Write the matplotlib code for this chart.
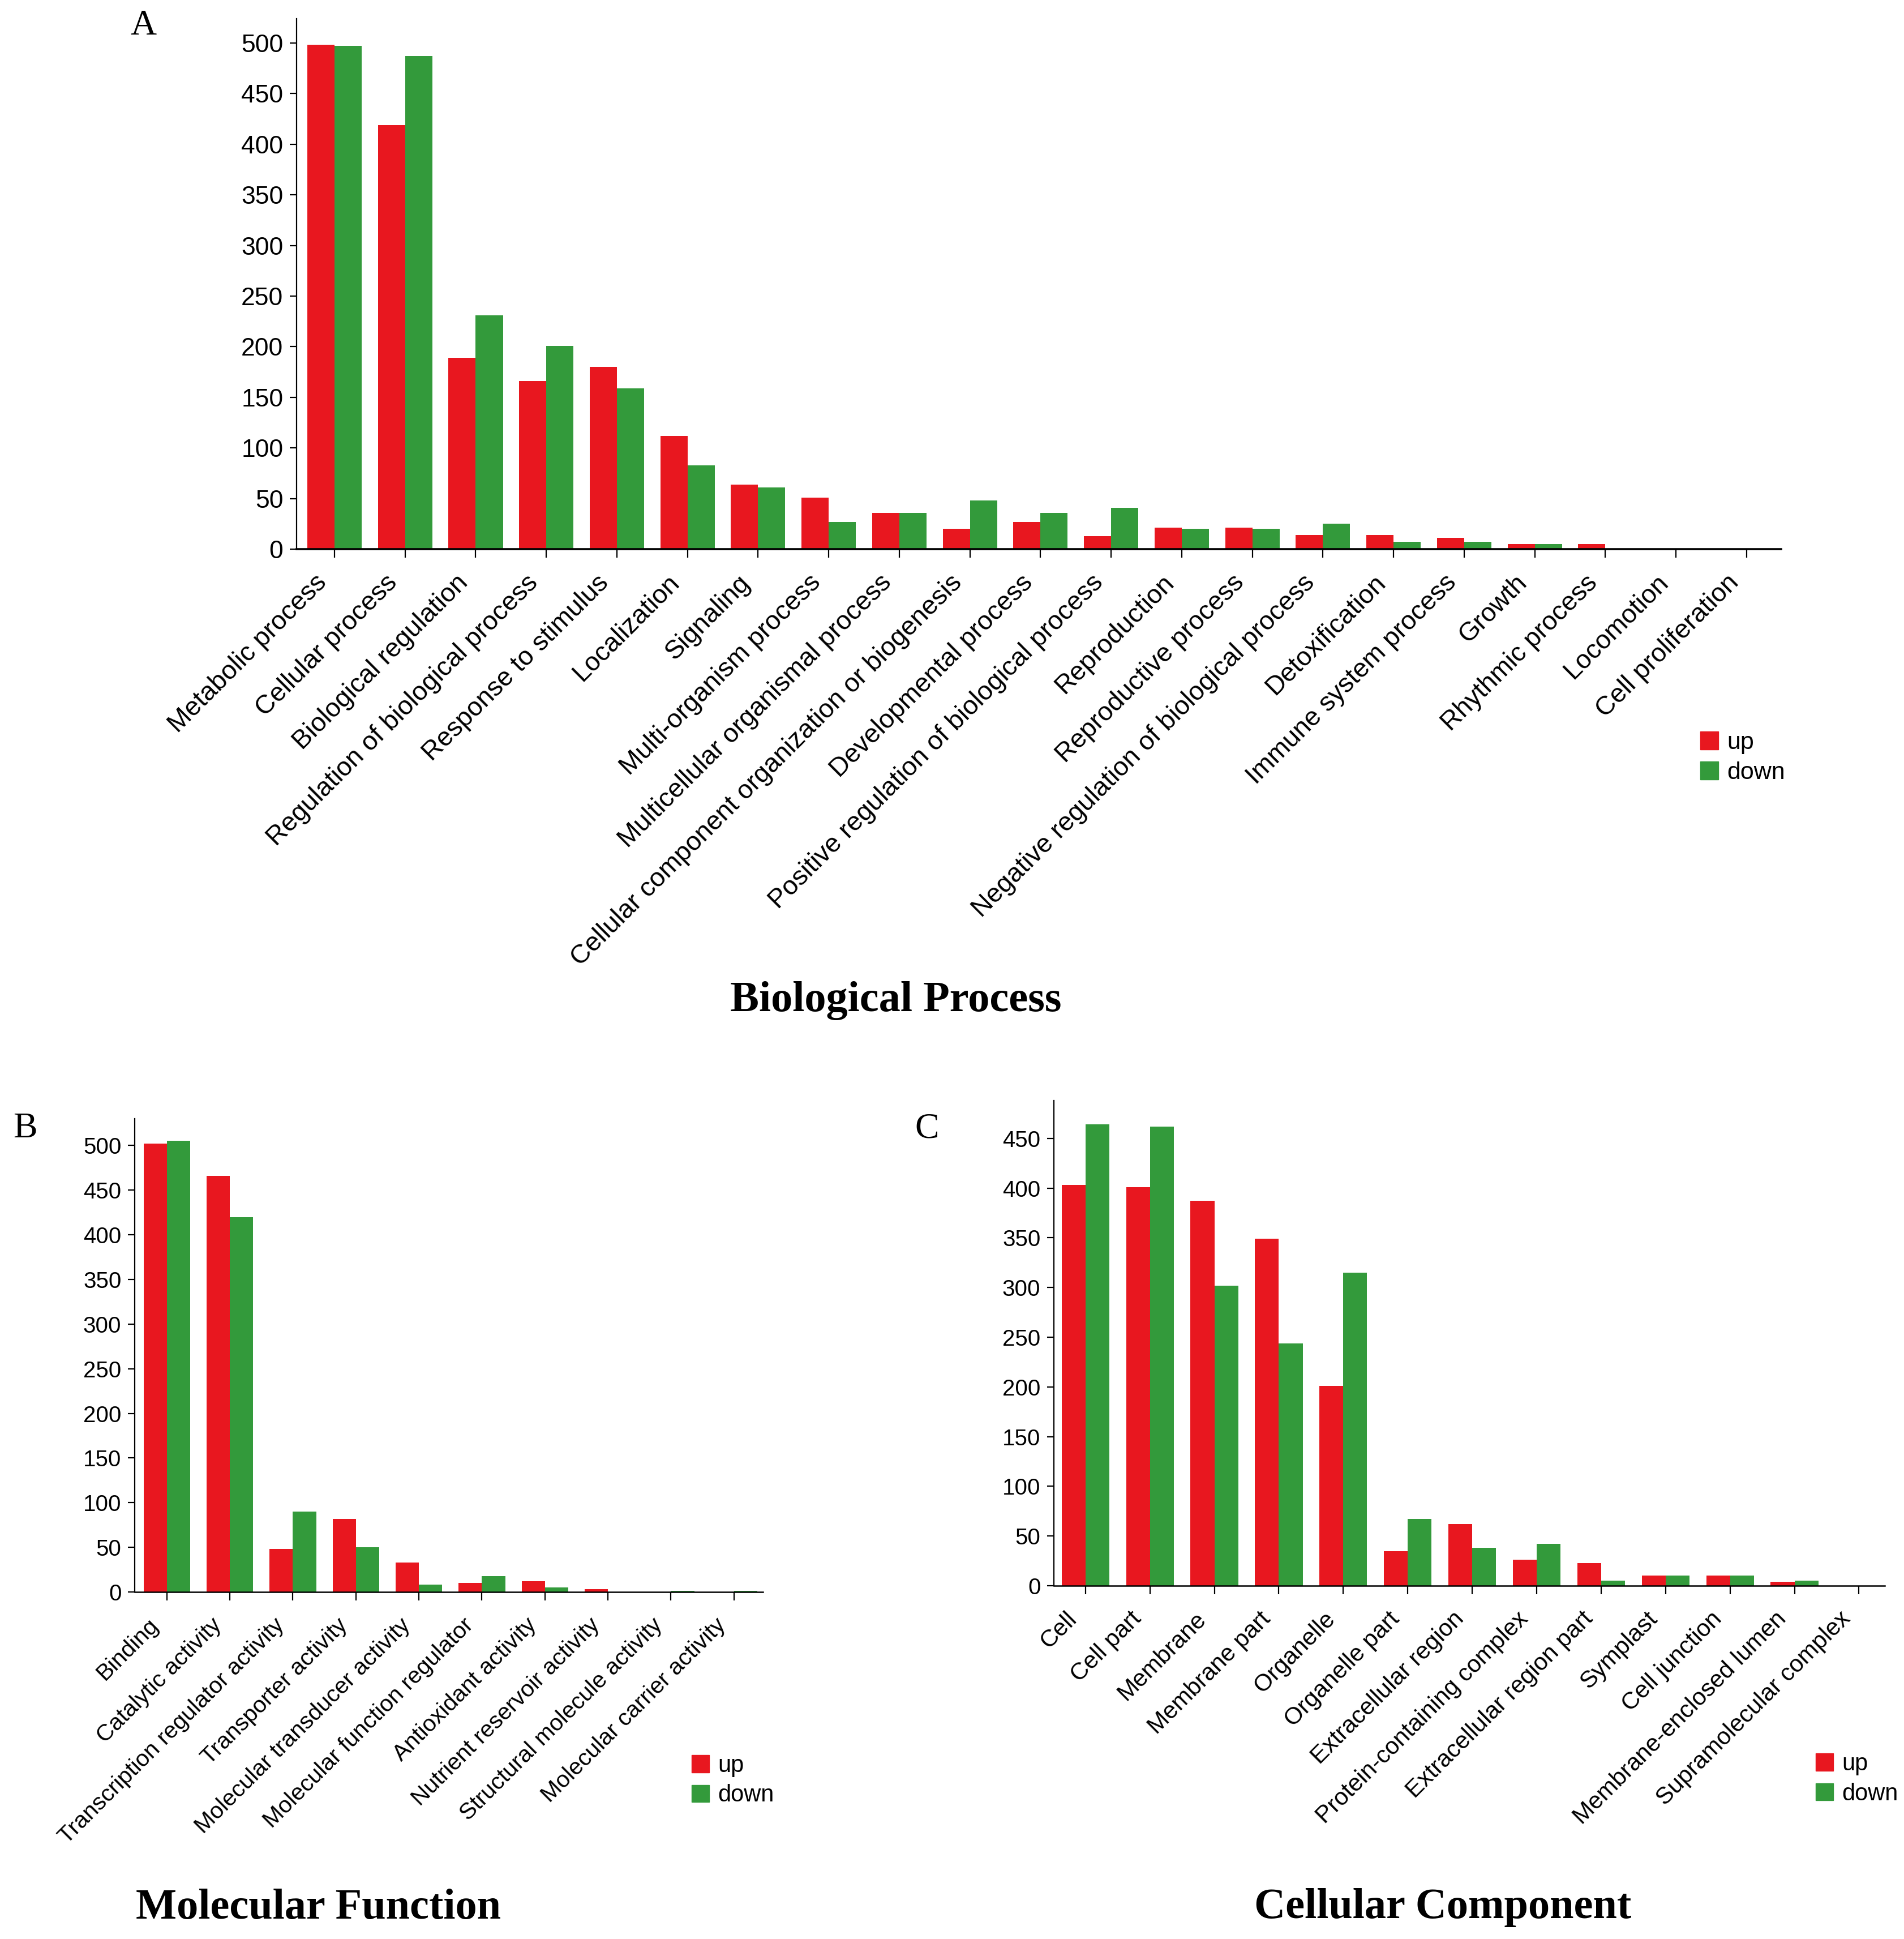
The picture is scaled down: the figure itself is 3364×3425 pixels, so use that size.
import matplotlib.pyplot as plt
import matplotlib.transforms as mtransforms
import numpy as np
from matplotlib.patches import Patch

plt.rcParams['font.family'] = ['Liberation Sans', 'DejaVu Sans']

RED = '#e8171f'
GREEN = '#339a3b'

# Biological Process
bp_labels = ['Metabolic process', 'Cellular process', 'Biological regulation',
             'Regulation of biological process', 'Response to stimulus',
             'Localization', 'Signaling', 'Multi-organism process',
             'Multicellular organismal process',
             'Cellular component organization or biogenesis',
             'Developmental process',
             'Positive regulation of biological process', 'Reproduction',
             'Reproductive process',
             'Negative regulation of biological process', 'Detoxification',
             'Immune system process', 'Growth', 'Rhythmic process',
             'Locomotion', 'Cell proliferation']
bp_up = [498, 419, 189, 166, 180, 112, 64, 51, 36, 20, 27, 13, 21, 21, 14, 14,
         11, 5, 5, 0, 0]
bp_down = [497, 487, 231, 201, 159, 83, 61, 27, 36, 48, 36, 41, 20, 20, 25, 7,
           7, 5, 0, 0, 0]

# Molecular Function
mf_labels = ['Binding', 'Catalytic activity',
             'Transcription regulator activity', 'Transporter activity',
             'Molecular transducer activity', 'Molecular function regulator',
             'Antioxidant activity', 'Nutrient reservoir activity',
             'Structural molecule activity', 'Molecular carrier activity']
mf_up = [502, 466, 48, 82, 33, 10, 12, 3, 0, 0]
mf_down = [505, 420, 90, 50, 8, 18, 5, 0, 1, 1]

# Cellular Component
cc_labels = ['Cell', 'Cell part', 'Membrane', 'Membrane part', 'Organelle',
             'Organelle part', 'Extracellular region',
             'Protein-containing complex', 'Extracellular region part',
             'Symplast', 'Cell junction', 'Membrane-enclosed lumen',
             'Supramolecular complex']
cc_up = [403, 401, 387, 349, 201, 35, 62, 26, 23, 10, 10, 4, 0]
cc_down = [464, 462, 302, 244, 315, 67, 38, 42, 5, 10, 10, 5, 0]

W, H = 3364, 3425
fig = plt.figure(figsize=(W / 100, H / 100), dpi=100)


def px_axes(left, top, right, bottom):
    # axes box given in pixel coords of the final image
    return fig.add_axes([left / W, 1 - bottom / H, (right - left) / W,
                         (bottom - top) / H])


def go_bars(ax, labels, up, down, width, xlim, ylim, yticks, xlw, yfs, xfs):
    x = np.arange(len(labels))
    ax.bar(x - width, up, width, align='edge', color=RED, lw=0)
    ax.bar(x, down, width, align='edge', color=GREEN, lw=0)

    ax.set_xlim(*xlim)
    ax.set_ylim(*ylim)
    ax.spines[['top', 'right']].set_visible(False)
    ax.spines['bottom'].set_linewidth(xlw)
    ax.spines['left'].set_linewidth(1.6)
    ax.set_yticks(yticks)
    ax.tick_params(axis='y', length=9, width=1.6, pad=8, labelsize=yfs)
    ax.tick_params(axis='x', length=11, width=1.6, pad=21, labelsize=xfs)
    ax.set_xticks(x)
    ax.set_xticklabels(labels, rotation=45, ha='right', va='center',
                       rotation_mode='anchor')

    # nudge the slanted labels a bit left/down, like the original
    shift = mtransforms.ScaledTranslation(-15 / 72, -6 / 72, fig.dpi_scale_trans)
    for lbl in ax.get_xticklabels():
        lbl.set_transform(lbl.get_transform() + shift)


def go_legend(ax, x, y, fs):
    handles = [Patch(color=RED, label='up'), Patch(color=GREEN, label='down')]
    ax.legend(handles=handles, loc='upper left', bbox_to_anchor=(x / W, 1 - y / H),
              bbox_transform=fig.transFigure, frameon=False, fontsize=fs,
              handlelength=0.75, handleheight=0.75, handletextpad=0.35,
              labelspacing=0.3, borderpad=0, borderaxespad=0)


# panel A
ax_a = px_axes(524, 33, 3147, 970)
go_bars(ax_a, bp_labels, bp_up, bp_down, 0.385, (-0.537, 20.49), (0, 524),
        range(0, 501, 50), 2.6, 32, 33.5)
go_legend(ax_a, 3004, 1292, 31)

# panel B
ax_b = px_axes(238, 1976, 1348, 2812)
go_bars(ax_b, mf_labels, mf_up, mf_down, 0.37, (-0.51, 9.46), (0, 530),
        range(0, 501, 50), 1.8, 29, 29.5)
go_legend(ax_b, 1222, 3099, 30)

# panel C
ax_c = px_axes(1862, 1944, 3330, 2801)
go_bars(ax_c, cc_labels, cc_up, cc_down, 0.37, (-0.49, 12.4), (0, 488),
        range(0, 451, 50), 1.8, 29, 30.5)
go_legend(ax_c, 3208, 3096, 30)

# panel letters and titles
serif = ['Liberation Serif', 'DejaVu Serif']
for s, (px, py) in zip('ABC', [(253, 46), (44, 1994), (1638, 1994)]):
    fig.text(px / W, 1 - py / H, s, family=serif, fontsize=46,
             ha='center', va='center')

titles = ['Biological Process', 'Molecular Function', 'Cellular Component']
for t, (px, py) in zip(titles, [(1583, 1768), (563, 3370), (2549, 3370)]):
    fig.text(px / W, 1 - py / H, t, family=serif, fontsize=55,
             fontweight='bold', ha='center', va='center')

fig.savefig('out.png', dpi=100, facecolor='white')
